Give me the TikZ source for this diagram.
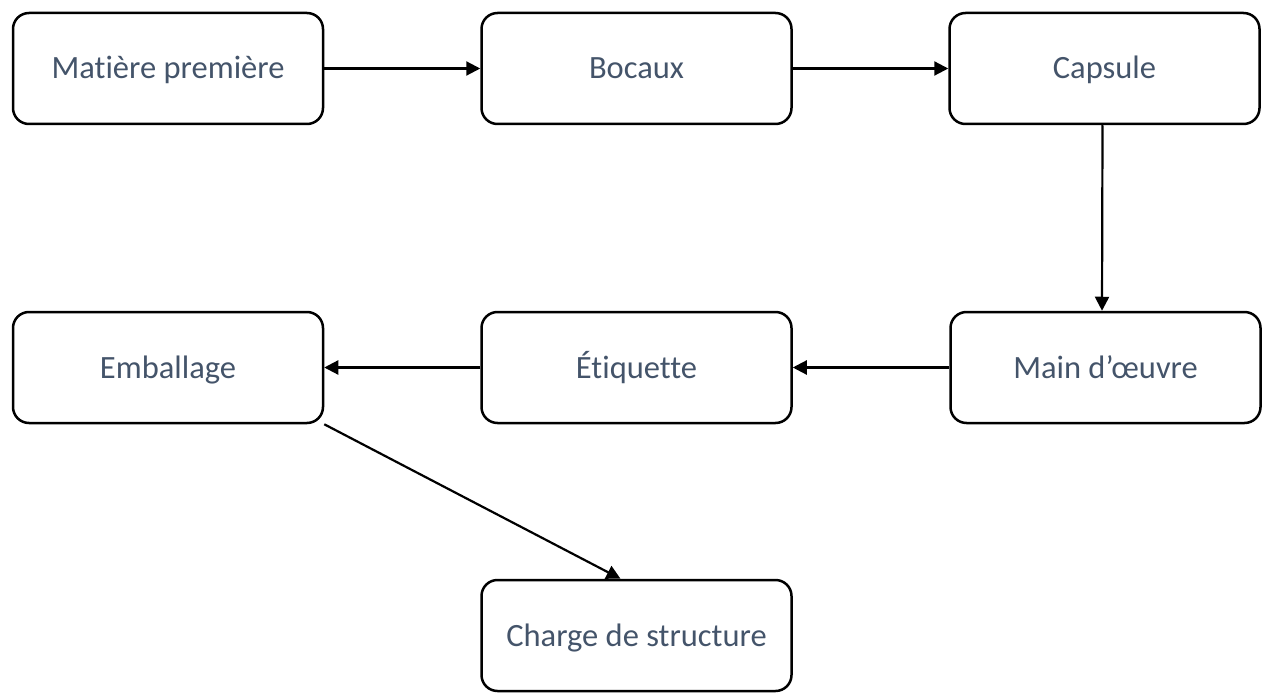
\documentclass[tikz,border=0pt]{standalone}
\usepackage{fontspec}
\setmainfont{Carlito}[Ligatures=NoCommon]
\usetikzlibrary{arrows.meta}
\definecolor{txt}{HTML}{44546A}
\tikzset{
  box/.style={draw=black, line width=2.5pt, rounded corners=16pt, minimum width=310pt, minimum height=111pt, inner sep=0pt, text=txt, font=\fontsize{32.5}{36}\selectfont, text height=21pt, text depth=0pt},
  conn/.style={line width=2.2pt, -{Triangle[length=14pt,width=14pt]}}
}
\begin{document}
\begin{tikzpicture}[x=1pt,y=-1pt]
\useasboundingbox (0,0) rectangle (1265,695);
\node[box] (mp) at (168,68.5) {Matière première};
\node[box] (bo) at (636.5,68.5) {Bocaux};
\node[box] (ca) at (1104.5,68.5) {Capsule};
\node[box] (mo) at (1105.5,367.5) {Main d’œuvre};
\node[box] (et) at (636.5,367.5) {Étiquette};
\node[box] (em) at (168,367.5) {Emballage};
\node[box] (cs) at (636.5,635.5) {Charge de structure};
\draw[conn] (mp) -- (bo);
\draw[conn] (bo) -- (ca);
\draw[conn] ([xshift=-2pt]ca.south) -- ([xshift=-3.5pt]mo.north);
\draw[conn] (mo) -- (et);
\draw[conn] (et) -- (em);
\draw[conn] (em.south east) -- ([xshift=-16pt]cs.north);
\end{tikzpicture}
\end{document}
